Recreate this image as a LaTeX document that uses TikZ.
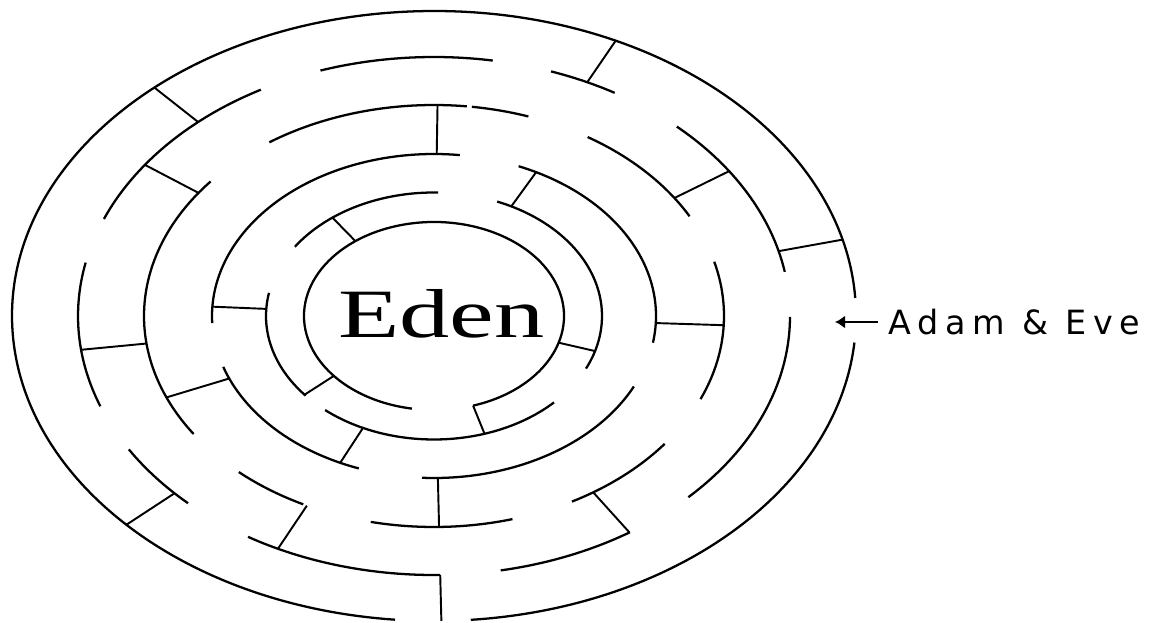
\documentclass[tikz,border=0pt]{standalone}
\usepackage{fontspec}
\usepackage{tikz}
\usetikzlibrary{arrows.meta, positioning, calc}
\newfontfamily\edenfont[FakeStretch=1.45]{Liberation Serif}
\newfontfamily\pathfont[LetterSpace=20]{DejaVu Sans}

\begin{document}
\begin{tikzpicture}[
    x=0.02cm, y=0.02cm,
    >=Stealth,
    ring/.style={line width=1.3pt, black},
    wall/.style={line width=1.1pt, black},
    arr/.style={-{Latex[length=0.2cm, width=0.26cm]}, line width=1.4pt}
  ]
  \useasboundingbox (0,0) rectangle (1159,622);
  \coordinate (c) at (434,306);

  % Rings (x radius / y radius / from / to)
  \foreach \rx/\ry/\a/\b in {%
    422/305/3.4/264.7, 422/305/-85/-5,
    356/259/119.1/158, 356/259/80.5/108.6, 356/259/59.5/70.8, 356/259/9.8/47,
    356/259/-44.4/-0.2, 356/259/-79.2/-56.6, 356/259/238.5/271,
    356/259/168.1/200.4, 356/259/211/226.3,
    290/211/83.5/124.6, 290/211/71/82.5, 290/211/28.2/58, 290/211/-23.2/14.9,
    290/211/-61.6/-37.3, 290/211/-102.6/-74.3, 290/211/227.7/243.2,
    290/211/140.4/214,
    222/162/83.3/182.5, 222/162/-9.5/67.6, 222/162/-93.1/-25.8,
    222/162/198.3/250.2,
    168/123.5/88.6/145.9, 168/123.5/-25.2/67.9, 168/123.5/-130.4/-44.4,
    168/123.5/169.2/220.2,
    130/94/-72.5/260.2} {
    \draw[ring] (c) ++({\rx*cos(\a)},{\ry*sin(\a)}) arc[start angle=\a, end angle=\b, x radius=\rx, y radius=\ry];
  }

  % Walls (angle / inner ring / outer ring)
  \foreach \t/\ix/\iy/\ox/\oy in {%
    131.5/356/259/422/305, 64.5/356/259/422/305, 14.5/356/259/422/305,
    -89/356/259/422/305, 223.2/356/259/422/305,
    144.3/290/211/356/259, 187.5/290/211/356/259, -116/290/211/356/259,
    34/290/211/356/259, -56.7/290/211/356/259,
    89.3/222/162/290/211, -2.5/222/162/290/211, -89/222/162/290/211,
    202.7/222/162/290/211,
    176.7/168/123.5/222/162, 62.6/168/123.5/222/162, 245/168/123.5/222/162,
    127.2/130/94/168/123.5, -16.5/130/94/168/123.5, 219.6/130/94/168/123.5,
    -72.5/130/94/168/123.5} {
    \coordinate (w1) at ($(c)+({\ix*cos(\t)},{\iy*sin(\t)})$);
    \coordinate (w2) at ($(c)+({\ox*cos(\t)},{\oy*sin(\t)})$);
    \draw[wall] (w1) -- (w2);
  }

  % Labels
  \node[font=\edenfont\fontsize{39.4}{40}\selectfont, anchor=base, inner sep=0pt] (eden) at (441.5,284) {Eden};
  \node[font=\pathfont\fontsize{19}{20}\selectfont, anchor=west, inner xsep=0.2cm, inner ysep=0pt] (adam) at (878,300) {Adam \& Eve};
  \coordinate (entry) at (835,300);
  \draw[arr] (adam.west) -- (entry);

\end{tikzpicture}
\end{document}
